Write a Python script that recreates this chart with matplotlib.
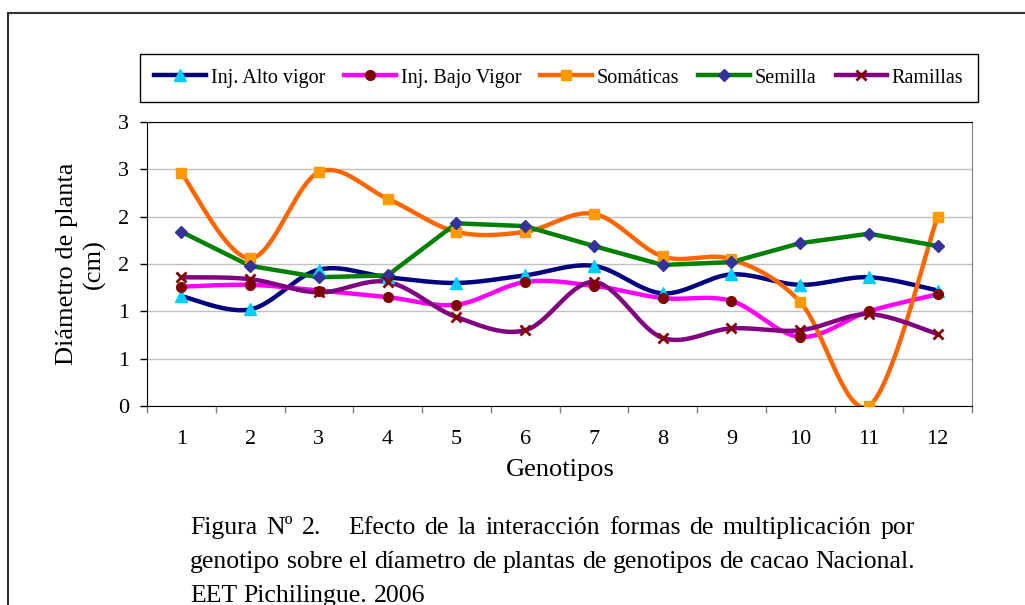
import numpy as np
import matplotlib
matplotlib.use("Agg")
import matplotlib.pyplot as plt
from matplotlib.ticker import FuncFormatter, MultipleLocator
from matplotlib.lines import Line2D

plt.rcParams['font.family'] = ['Liberation Serif', 'DejaVu Serif']

genotipos = [1, 2, 3, 4, 5, 6, 7, 8, 9, 10, 11, 12]
alto_vigor = [1.16, 1.02, 1.44, 1.36, 1.30, 1.38, 1.48, 1.19, 1.39, 1.28, 1.36, 1.22]
bajo_vigor = [1.26, 1.28, 1.22, 1.15, 1.07, 1.31, 1.27, 1.14, 1.11, 0.73, 1.00, 1.18]
somaticas = [2.46, 1.56, 2.47, 2.19, 1.84, 1.84, 2.03, 1.58, 1.55, 1.10, 0.00, 2.00]
semilla = [1.84, 1.48, 1.36, 1.38, 1.93, 1.90, 1.69, 1.49, 1.52, 1.72, 1.82, 1.69]
ramillas = [1.36, 1.34, 1.20, 1.31, 0.94, 0.80, 1.31, 0.72, 0.82, 0.80, 0.97, 0.76]

etiquetas = ["Inj. Alto vigor", "Inj. Bajo Vigor", "Somáticas", "Semilla", "Ramillas"]


def suavizar(x, y, n=40):
    # linea suavizada tipo Excel (bezier / catmull-rom)
    p = np.column_stack([np.asarray(x, float), np.asarray(y, float)])
    t = np.linspace(0, 1, n)[:, None]
    partes = []
    for i in range(len(p) - 1):
        a = p[max(i - 1, 0)]
        d = p[min(i + 2, len(p) - 1)]
        c1 = p[i] + (p[i + 1] - a) / 6
        c2 = p[i + 1] - (d - p[i]) / 6
        seg = ((1 - t) ** 3) * p[i] + 3 * ((1 - t) ** 2) * t * c1 + 3 * (1 - t) * t ** 2 * c2 + t ** 3 * p[i + 1]
        partes.append(seg)
    s = np.vstack(partes)
    return s[:, 0], s[:, 1]


series = [
    (alto_vigor, "#000080", "^", "#00CCFF", "#00CCFF", 8, True),
    (bajo_vigor, "#FF00FF", "o", "#800000", "#800000", 7, True),
    (somaticas, "#FF6600", "s", "#FF9900", "#FF9900", 7, True),
    (semilla, "#008000", "D", "#333399", "#333399", 6, False),
    (ramillas, "#800080", "x", "#800000", "#800000", 7, True),
]

fig = plt.figure(figsize=(10.25, 6.05), dpi=100)
ax = fig.add_axes([147 / 1025, 1 - 406 / 605, 825 / 1025, 284 / 605])

handles = []
for (vals, lc, m, mfc, mec, ms, suave), lab in zip(series, etiquetas):
    if suave:
        xs, ys = suavizar(genotipos, vals)
    else:
        xs, ys = genotipos, vals
    ax.plot(xs, ys, color=lc, lw=3.2, solid_capstyle="round", solid_joinstyle="round", zorder=3)
    ax.plot(genotipos, vals, ls="none", marker=m, mfc=mfc, mec=mec, ms=ms, mew=2 if m == "x" else 1, zorder=4)
    handles.append(Line2D([], [], color=lc, lw=3.2, marker=m, mfc=mfc, mec=mec, ms=ms,
                          mew=2 if m == "x" else 1, label=lab))

ax.set_xlim(0.5, 12.5)
ax.set_ylim(0, 3)
ax.yaxis.set_major_locator(MultipleLocator(0.5))
ax.yaxis.set_major_formatter(FuncFormatter(lambda v, p: "%d" % int(v + 0.5)))
ax.grid(axis="y", color="#C0C0C0", lw=1)
ax.set_axisbelow(True)

ax.set_xticks(np.arange(0.5, 13, 1))
ax.set_xticklabels([])
ax.set_xticks(genotipos, minor=True)
ax.set_xticklabels([str(g) for g in genotipos], minor=True)
ax.tick_params(axis="x", which="major", direction="out", length=5, width=1, color="#808080")
ax.tick_params(axis="x", which="minor", length=0, pad=17, labelsize=16)
ax.tick_params(axis="y", direction="out", length=5, width=1, pad=8, labelsize=16)

for s in ["left", "bottom", "top"]:
    ax.spines[s].set_color("black")
ax.spines["right"].set_color("#808080")

fig.text(81 / 1025, 1 - 264 / 605, "Diámetro de planta\n(cm)", rotation=90, ha="center", va="center",
         multialignment="center", fontsize=19, linespacing=1.3)
fig.text(560 / 1025, 1 - 470 / 605, "Genotipos", ha="center", va="center", fontsize=19)

leg = fig.legend(handles=handles, loc="center", bbox_to_anchor=(559 / 1025, 1 - 78 / 605), ncol=5,
                 frameon=True, fancybox=False, edgecolor="black", framealpha=1, fontsize=14.5,
                 handlelength=2.55, handletextpad=0.25, columnspacing=0.95, borderpad=0.7)
leg.get_frame().set_linewidth(1.0)

# marco exterior
fig.add_artist(Line2D([8 / 1025, 8 / 1025], [0, 1 - 13 / 605], color="#333333", lw=1.5))
fig.add_artist(Line2D([8 / 1025, 1], [1 - 13 / 605, 1 - 13 / 605], color="#333333", lw=1.5))

# pie de figura justificado
lineas = [
    (["Figura", "Nº", "2.", "Efecto", "de", "la", "interacción", "formas", "de", "multiplicación", "por"], True, 534),
    (["genotipo", "sobre", "el", "díametro", "de", "plantas", "de", "genotipos", "de", "cacao", "Nacional."], True, 568),
    (["EET", "Pichilingue.", "2006"], False, 602),
]
r = fig.canvas.get_renderer()
x0, x1 = 190, 915
for palabras, justificar, yb in lineas:
    textos = [fig.text(0, 1 - yb / 605, w, fontsize=18.5, va="baseline") for w in palabras]
    anchos = [t.get_window_extent(r).width for t in textos]
    espacio = textos[0].get_fontsize() * 0.25 * 100 / 72
    pesos = [3 if w == "2." else 1 for w in palabras[:-1]]
    if justificar:
        gap = (x1 - x0 - sum(anchos)) / sum(pesos)
    else:
        gap = espacio
    x = x0
    for t, w, k in zip(textos, anchos, pesos + [0]):
        t.set_x(x / 1025)
        x += w + gap * k

fig.savefig("out.png", dpi=100)
